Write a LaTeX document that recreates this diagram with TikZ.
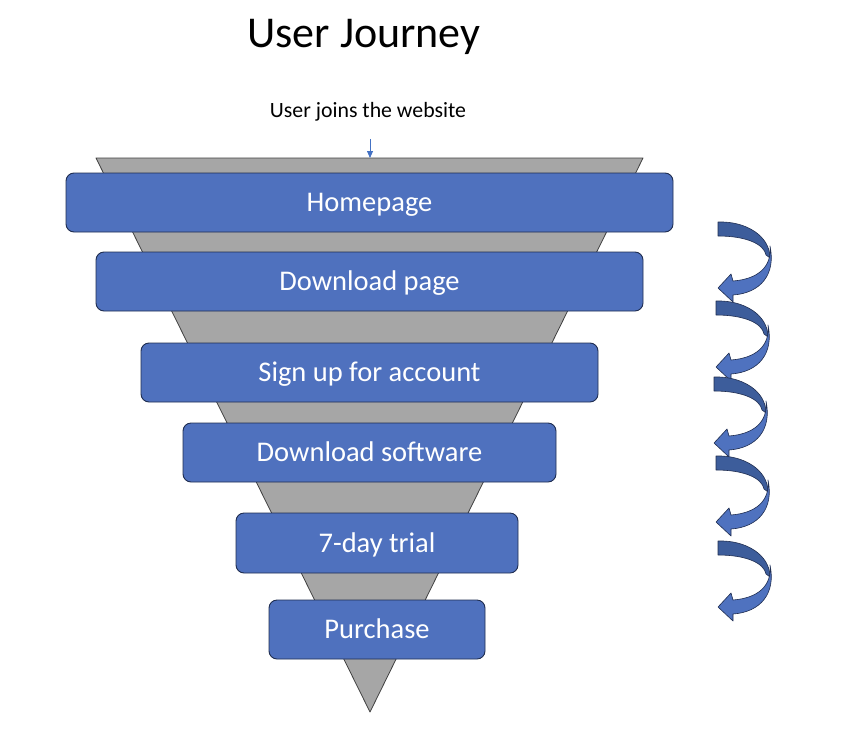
\documentclass[tikz,border=0pt]{standalone}
\usepackage{fontspec}
\setmainfont{Carlito}
\usetikzlibrary{arrows.meta}
\definecolor{boxblue}{HTML}{4F71BE}
\definecolor{boxedge}{HTML}{1F2D50}
\definecolor{fgray}{HTML}{A6A6A6}
\definecolor{darkarrow}{HTML}{3D5D9B}
\definecolor{lightarrow}{HTML}{4F72BF}
\definecolor{joinblue}{HTML}{4472C4}
\tikzset{
  stage/.style={draw=boxedge, line width=0.9pt, fill=boxblue, rounded corners=8pt,
    text=white, font=\fontsize{28.5}{32}\selectfont, minimum height=59pt, inner sep=0pt,
    text height=20pt, text depth=2pt},
  funnel/.style={fill=fgray, draw=black!75, line width=0.8pt, line join=round},
  backband/.style={fill=darkarrow, draw=boxedge, line width=0.6pt, line join=round},
  frontband/.style={fill=lightarrow, draw=boxedge, line width=0.6pt, line join=round},
  titletext/.style={font=\fontsize{44}{50}\selectfont, text=black},
  notetext/.style={font=\fontsize{21.8}{26}\selectfont, text=black},
  joinarrow/.style={draw=joinblue, line width=0.8pt, -{Triangle[length=7pt,width=6pt]}},
}
\begin{document}
\begin{tikzpicture}[x=1pt,y=-1pt]
\useasboundingbox (0,0) rectangle (850,744);
% title and entry note
\node[titletext] (title) at (364,37) {User Journey};
\node[notetext] (join) at (368,112) {User joins the website};
% funnel
\coordinate (ftl) at (96,158);
\coordinate (ftr) at (643,158);
\coordinate (fapex) at (370,712);
\coordinate (ftop) at (370,158);
\draw[funnel] (ftl) -- (ftr) -- (fapex) -- cycle;
\draw[joinarrow] ([yshift=-14pt]join.south -| ftop) -- (ftop);
% stages
\node[stage, minimum width=607pt] (home) at (369.5,202.5) {Homepage};
\node[stage, minimum width=547pt] (dlpage) at (369.5,281.5) {Download page};
\node[stage, minimum width=457pt] (signup) at (369.5,372.5) {Sign up for account};
\node[stage, minimum width=373pt] (dlsw) at (369.5,452.5) {Download software};
\node[stage, minimum width=282pt, minimum height=60pt] (trial) at (377,543) {7-day trial};
\node[stage, minimum width=216pt] (purchase) at (377,629.5) {Purchase};
% curved arrows
\foreach \ax/\ay in {718/222, 716/301, 714/377, 716/456, 718/541}{
  \begin{scope}[shift={(\ax,\ay)}]
    \draw[backband] (0,0) .. controls (28,-1) and (52,14) .. (52,36)
      -- (48,33) .. controls (46,22) and (28,14) .. (0,14) -- cycle;
    \draw[frontband] (52,24) .. controls (54,45) and (40,57) .. (15,59)
      -- (13,52) -- (0,66) -- (15,80) -- (15,73)
      .. controls (43,71) and (58,52) .. (52,24) -- cycle;
  \end{scope}
}
\end{tikzpicture}
\end{document}
